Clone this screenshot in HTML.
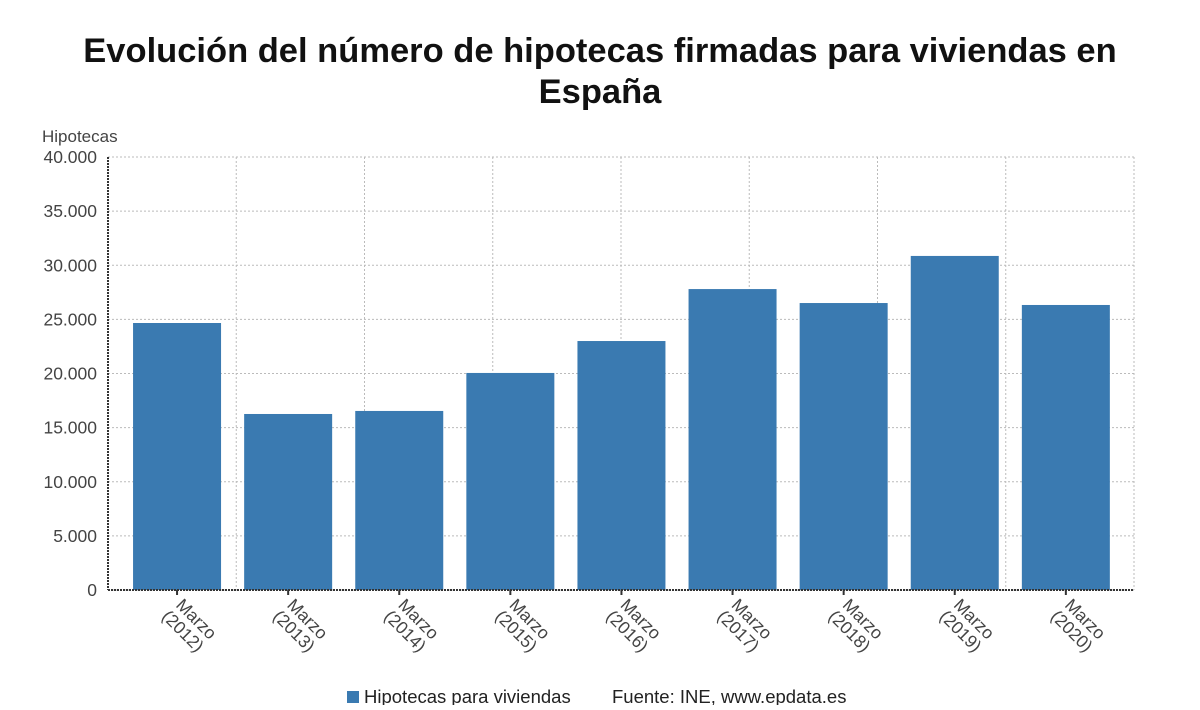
<!DOCTYPE html>
<html><head><meta charset="utf-8"><style>
body{margin:0;background:#fff;font-family:"Liberation Sans","DejaVu Sans",sans-serif}
</style></head><body>
<svg width="1200" height="705" viewBox="0 0 1200 705" xmlns="http://www.w3.org/2000/svg">
<text x="600" y="62" text-anchor="middle" font-size="34.5" font-weight="bold" fill="#111">Evolución del número de hipotecas firmadas para viviendas en</text>
<text x="600" y="103" text-anchor="middle" font-size="34.5" font-weight="bold" fill="#111">España</text>
<text x="42" y="142" font-size="17" fill="#444">Hipotecas</text>
<g id="grid"></g>
<g id="bars"></g>
<g id="axes"></g>
<g>
<rect x="347" y="691" width="12" height="12" fill="#3a7ab1"/>
<text x="364" y="703" font-size="18.5" fill="#222">Hipotecas para viviendas</text>
<text x="612" y="703" font-size="18.5" fill="#222">Fuente: INE, www.epdata.es</text>
</g>
</svg>
<script>
const categories=["2012","2013","2014","2015","2016","2017","2018","2019","2020"];
const values=[24665,16260,16540,20050,23000,27800,26510,30860,26330];
const yTicks=[0,5000,10000,15000,20000,25000,30000,35000,40000];
const yTickLabels=["0","5.000","10.000","15.000","20.000","25.000","30.000","35.000","40.000"];
const NS="http://www.w3.org/2000/svg";
const L=108,R=1134,T=157,B=590,yMax=40000;
const y=v=>B-(v/yMax)*(B-T);
const step=111.1,x0=121.5;
const xc=i=>x0+step*(i+0.5);
function mk(tag,attrs,parent){const e=document.createElementNS(NS,tag);for(const k in attrs)e.setAttribute(k,attrs[k]);parent.appendChild(e);return e;}
const grid=document.getElementById('grid'),bars=document.getElementById('bars'),axes=document.getElementById('axes');
yTicks.forEach((t,i)=>{
 const g=mk('line',{x1:L,x2:R,y1:y(t),y2:y(t),stroke:'#bbb','stroke-dasharray':'2,2'},grid);
 
 
 const tx=mk('text',{x:97,y:y(t)+6,'text-anchor':'end','font-size':17.5,fill:'#444'},axes);
 tx.textContent=yTickLabels[i];
 
 
});
for(let k=1;k<=8;k++){
 const xx=L+(R-L)*k/8;
 const g=mk('line',{x1:xx,x2:xx,y1:T,y2:B,stroke:'#bbb','stroke-dasharray':'2,2'},grid);
 
 
}
values.forEach((v,i)=>{
 const r=mk('rect',{x:xc(i)-44,y:y(v),width:88,height:B-y(v),fill:'#3a7ab1'},bars);
 
 
 const tk=mk('line',{x1:xc(i),x2:xc(i),y1:B,y2:B+5,stroke:'#333','stroke-width':2},axes);
 
 
 const t=mk('text',{transform:`translate(${xc(i)-2},${B+16}) rotate(45)`,'font-size':17.5,fill:'#444'},axes);
 
 
 const a=mk('tspan',{x:0,dy:0},t);a.textContent='Marzo';
 const b=mk('tspan',{x:-2,dy:18},t);b.textContent='('+categories[i]+')';
});
const ya=mk('line',{x1:L,x2:L,y1:T,y2:B,stroke:'#333','stroke-width':2,'stroke-dasharray':'2,1'},axes);


const xa=mk('line',{x1:L,x2:R,y1:B,y2:B,stroke:'#333','stroke-width':2,'stroke-dasharray':'2,1'},axes);


</script>
</body></html>
